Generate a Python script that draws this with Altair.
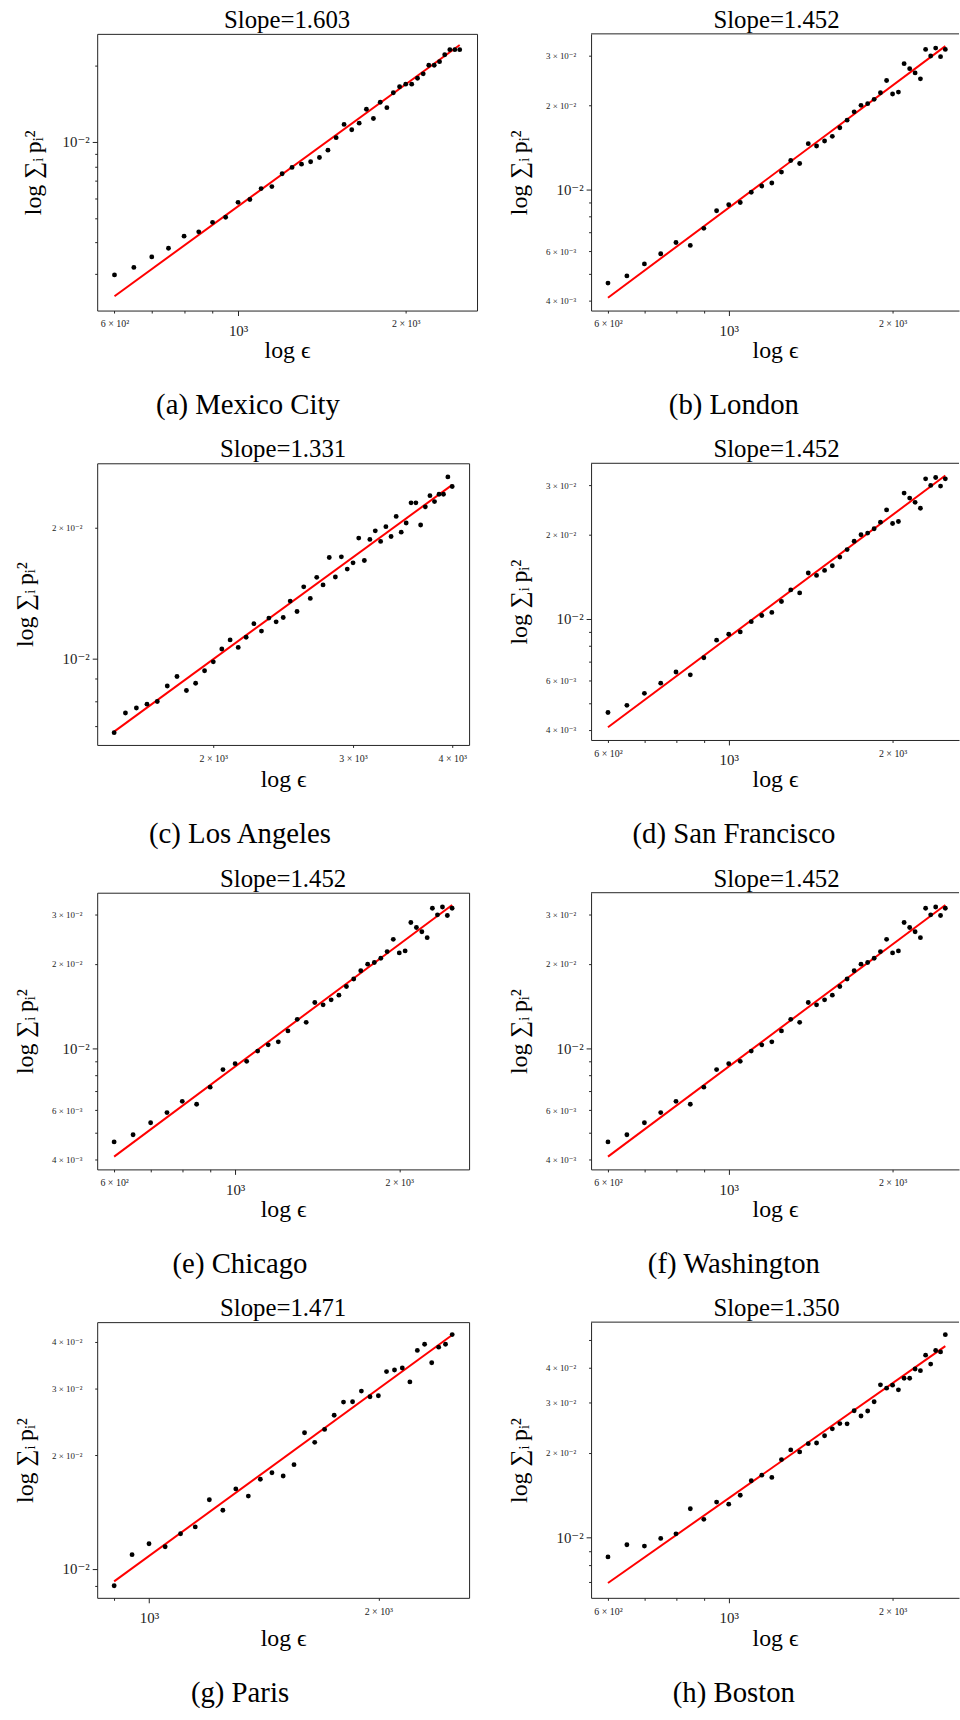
import altair as alt
import numpy as np
import pandas as pd

SERIF = "Liberation Serif, DejaVu Serif, serif"
INK = "#222222"

# ---- box sizes epsilon (x values) ----
EPS_STD = [600, 650, 700, 750, 800, 850, 900, 950, 1000, 1050, 1100, 1150, 1200,
           1250, 1300, 1350, 1400, 1450, 1500, 1550, 1600, 1650, 1700, 1750, 1800,
           1850, 1900, 1950, 2000, 2050, 2100, 2150, 2200, 2250, 2300, 2350, 2400,
           2450, 2500]
EPS_LA = [1500, 1550, 1600, 1650, 1700, 1750, 1800, 1850, 1900, 1950, 2000, 2050,
          2100, 2150, 2200, 2250, 2300, 2350, 2400, 2450, 2500, 2550, 2600, 2650,
          2700, 2750, 2800, 2850, 2900, 2950, 3000, 3050, 3100, 3150, 3200, 3250,
          3300, 3350, 3400, 3450, 3500, 3550, 3600, 3650, 3700, 3750, 3800, 3850,
          3900, 3950, 4000]
EPS_PARIS = [900, 950, 1000, 1050, 1100, 1150, 1200, 1250, 1300, 1350, 1400, 1450,
             1500, 1550, 1600, 1650, 1700, 1750, 1800, 1850, 1900, 1950, 2000, 2050,
             2100, 2150, 2200, 2250, 2300, 2350, 2400, 2450, 2500]

# ---- sum_i p_i^2 per city ----
SUM_MEXICO = [2.98e-3, 3.19e-3, 3.51e-3, 3.80e-3, 4.24e-3, 4.41e-3, 4.81e-3, 5.04e-3,
              5.77e-3, 5.92e-3, 6.54e-3, 6.66e-3, 7.49e-3, 7.93e-3, 8.17e-3, 8.35e-3,
              8.68e-3, 9.28e-3, 1.040e-2, 1.173e-2, 1.118e-2, 1.187e-2, 1.347e-2,
              1.238e-2, 1.435e-2, 1.367e-2, 1.566e-2, 1.653e-2, 1.693e-2, 1.693e-2,
              1.787e-2, 1.859e-2, 2.010e-2, 2.010e-2, 2.077e-2, 2.213e-2, 2.317e-2,
              2.317e-2, 2.317e-2]
SUM_LONDON = [4.62e-3, 4.90e-3, 5.41e-3, 5.88e-3, 6.45e-3, 6.30e-3, 7.25e-3, 8.38e-3,
              8.80e-3, 8.97e-3, 9.76e-3, 1.027e-2, 1.053e-2, 1.152e-2, 1.267e-2,
              1.236e-2, 1.456e-2, 1.428e-2, 1.488e-2, 1.546e-2, 1.660e-2, 1.766e-2,
              1.891e-2, 1.996e-2, 2.023e-2, 2.096e-2, 2.214e-2, 2.448e-2, 2.190e-2,
              2.226e-2, 2.812e-2, 2.699e-2, 2.606e-2, 2.482e-2, 3.162e-2, 2.995e-2,
              3.196e-2, 2.979e-2, 3.162e-2]
SUM_LA = [6.76e-3, 7.50e-3, 7.70e-3, 7.86e-3, 7.97e-3, 8.65e-3, 9.10e-3, 8.45e-3,
          8.78e-3, 9.38e-3, 9.83e-3, 1.052e-2, 1.104e-2, 1.061e-2, 1.120e-2, 1.203e-2,
          1.157e-2, 1.239e-2, 1.215e-2, 1.243e-2, 1.356e-2, 1.283e-2, 1.462e-2,
          1.375e-2, 1.537e-2, 1.477e-2, 1.707e-2, 1.540e-2, 1.713e-2, 1.606e-2,
          1.660e-2, 1.892e-2, 1.680e-2, 1.879e-2, 1.966e-2, 1.859e-2, 2.010e-2,
          1.908e-2, 2.122e-2, 1.952e-2, 2.049e-2, 2.280e-2, 2.280e-2, 2.028e-2,
          2.232e-2, 2.368e-2, 2.295e-2, 2.385e-2, 2.385e-2, 2.615e-2, 2.486e-2]
SUM_SF = SUM_LONDON
SUM_CHICAGO = SUM_LONDON
SUM_WASHINGTON = SUM_LONDON
SUM_PARIS = [9.02e-3, 1.090e-2, 1.165e-2, 1.144e-2, 1.238e-2, 1.291e-2, 1.524e-2,
             1.429e-2, 1.628e-2, 1.558e-2, 1.727e-2, 1.797e-2, 1.761e-2, 1.887e-2,
             2.293e-2, 2.163e-2, 2.340e-2, 2.551e-2, 2.765e-2, 2.771e-2, 2.956e-2,
             2.856e-2, 2.873e-2, 3.329e-2, 3.363e-2, 3.403e-2, 3.127e-2, 3.788e-2,
             3.935e-2, 3.515e-2, 3.865e-2, 3.935e-2, 4.172e-2]
SUM_BOSTON = [8.56e-3, 9.45e-3, 9.35e-3, 9.95e-3, 1.033e-2, 1.267e-2, 1.162e-2,
              1.337e-2, 1.315e-2, 1.414e-2, 1.591e-2, 1.665e-2, 1.634e-2, 1.890e-2,
              2.044e-2, 2.011e-2, 2.151e-2, 2.163e-2, 2.294e-2, 2.427e-2, 2.533e-2,
              2.527e-2, 2.812e-2, 2.694e-2, 2.805e-2, 3.025e-2, 3.470e-2, 3.378e-2,
              3.461e-2, 3.333e-2, 3.661e-2, 3.661e-2, 3.948e-2, 3.895e-2, 4.419e-2,
              4.109e-2, 4.588e-2, 4.538e-2, 5.220e-2]

SLOPES = {"a": 1.603, "b": 1.452, "c": 1.331, "d": 1.452,
          "e": 1.452, "f": 1.452, "g": 1.471, "h": 1.350}
CITIES = {"a": "Mexico City", "b": "London", "c": "Los Angeles", "d": "San Francisco",
          "e": "Chicago", "f": "Washington", "g": "Paris", "h": "Boston"}

# ---- tick values and their labels ----
X_TICKS_STD = {600: "6 × 10²", 700: "", 800: "", 900: "", 1000: "10³", 2000: "2 × 10³"}
X_TICKS_LA = {2000: "2 × 10³", 3000: "3 × 10³", 4000: "4 × 10³"}
X_TICKS_PARIS = {900: "", 1000: "10³", 2000: "2 × 10³"}
Y_TICKS_MEXICO = {0.003: "", 0.004: "", 0.005: "", 0.006: "", 0.007: "", 0.008: "",
                  0.009: "", 0.01: "10⁻²", 0.02: ""}
Y_TICKS_LONDON = {0.004: "4 × 10⁻³", 0.005: "", 0.006: "6 × 10⁻³", 0.007: "",
                  0.008: "", 0.009: "", 0.01: "10⁻²", 0.02: "2 × 10⁻²", 0.03: "3 × 10⁻²"}
Y_TICKS_LA = {0.007: "", 0.008: "", 0.009: "", 0.01: "10⁻²", 0.02: "2 × 10⁻²"}
Y_TICKS_PARIS = {0.009: "", 0.01: "10⁻²", 0.02: "2 × 10⁻²", 0.03: "3 × 10⁻²",
                 0.04: "4 × 10⁻²"}
Y_TICKS_BOSTON = {0.007: "", 0.008: "", 0.009: "", 0.01: "10⁻²", 0.02: "2 × 10⁻²",
                  0.03: "3 × 10⁻²", 0.04: "4 × 10⁻²", 0.05: ""}

# axis ranges (log scales)
XDOM_LEFT = [558.6, 2685.6]
XDOM_RIGHT = [558.6, 2649.0]
XDOM_LA = [1428.0, 4201.0]
XDOM_PARIS = [855.0, 2631.0]
YDOM_MEXICO = [0.002154, 0.02676]
YDOM_LONDON = [0.003684, 0.03594]
YDOM_LA = [0.006335, 0.0281]
YDOM_PARIS = [0.008377, 0.04502]
YDOM_BOSTON = [0.006136, 0.05781]

MAJOR = "abs(log(datum.value) / LN10 - round(log(datum.value) / LN10)) < 0.000001"

# the page body keeps its default 8px margin
PAGE_MARGIN = 8


def cond(major, minor):
    return {"condition": {"test": MAJOR, "value": major}, "value": minor}


def label_expr(ticks):
    parts = [f"abs(datum.value - {v!r}) < {abs(v) * 1e-6!r} ? '{t}'"
             for v, t in ticks.items()]
    return " : ".join(parts) + " : ''"


def city_panel(key, eps, s2, xdom, ydom, xticks, yticks, w, h, ytx,
               right=False, canvas=False):
    slope = SLOPES[key]
    df = pd.DataFrame({"eps": eps, "s2": s2})
    lx, ly = np.log10(df["eps"]), np.log10(df["s2"])
    icpt = ly.mean() - slope * lx.mean()
    ends = pd.DataFrame({"eps": [eps[0], eps[-1]]})
    ends["s2"] = 10 ** (icpt + slope * np.log10(ends["eps"]))

    common = dict(grid=False, domain=right, domainColor=INK, domainWidth=1,
                  tickColor=INK, tickWidth=1, tickSize=cond(5, 2.5),
                  labelFont=SERIF, labelColor=INK,
                  labelOverlap=False, labelFlush=False,
                  titleFont=SERIF, titleFontSize=24, titleFontWeight="normal",
                  titleColor="black", titleBaseline="middle")
    x_axis = alt.Axis(values=list(xticks), labelExpr=label_expr(xticks),
                      title="log ϵ", titleY=319 - h, labelPadding=cond(8, 6),
                      labelFontSize=cond(15, 10), **common)
    y_axis = alt.Axis(values=list(yticks), labelExpr=label_expr(yticks),
                      title="log ∑ᵢ\u2009pᵢ²", titleX=ytx, labelPadding=cond(3, 13),
                      labelFontSize=cond(15, 9), **common)
    x = alt.X("eps:Q", scale=alt.Scale(type="log", domain=xdom, nice=False), axis=x_axis)
    y = alt.Y("s2:Q", scale=alt.Scale(type="log", domain=ydom, nice=False), axis=y_axis)

    fit = alt.Chart(ends).mark_line(color="#ff0000", strokeWidth=2).encode(x=x, y=y)
    dots = alt.Chart(df).mark_circle(color="black", size=24, opacity=1).encode(x=x, y=y)

    title_x = 187 if right else w / 2
    cap_x = 144 if (right or key != "a") else 152
    head = alt.Chart(pd.DataFrame({"t": [f"Slope={slope:.3f}"]})).mark_text(
        font=SERIF, fontSize=25, baseline="alphabetic", align="center", color="black"
    ).encode(text="t:N", x=alt.value(title_x), y=alt.value(-6))
    cap = alt.Chart(pd.DataFrame({"t": [f"({key}) {CITIES[key]}"]})).mark_text(
        font=SERIF, fontSize=29, baseline="middle", align="center", color="black"
    ).encode(text="t:N", x=alt.value(cap_x), y=alt.value(374))

    layers = [fit, dots, head, cap]
    if right:
        # top edge of the frame (the right edge runs past the page)
        layers.append(alt.Chart(pd.DataFrame({"k": [0]})).mark_rule(
            color=INK, strokeWidth=1
        ).encode(x=alt.value(0), x2=alt.value(w), y=alt.value(0)))
        view = alt.ViewBackground(stroke=None)
    else:
        view = alt.ViewBackground(stroke=INK, strokeWidth=1)
    if canvas:
        # invisible sheet that fixes where the figure starts on the page
        layers.append(alt.Chart(pd.DataFrame({"k": [0]})).mark_rect(opacity=0).encode(
            x=alt.value(-90 + PAGE_MARGIN), x2=alt.value(870 - PAGE_MARGIN),
            y=alt.value(-31 + PAGE_MARGIN), y2=alt.value(1689 - PAGE_MARGIN)))
    return alt.layer(*layers).properties(width=w, height=h, view=view)


def gap(w, h):
    return alt.Chart(pd.DataFrame({"k": [0]})).mark_point(opacity=0, size=0).properties(
        width=w, height=h)


pa = city_panel("a", EPS_STD, SUM_MEXICO, XDOM_LEFT, YDOM_MEXICO, X_TICKS_STD,
                Y_TICKS_MEXICO, 383, 279, -64, canvas=True)
pb = city_panel("b", EPS_STD, SUM_LONDON, XDOM_RIGHT, YDOM_LONDON, X_TICKS_STD,
                Y_TICKS_LONDON, 371, 279, -72, right=True)
pc = city_panel("c", EPS_LA, SUM_LA, XDOM_LA, YDOM_LA, X_TICKS_LA,
                Y_TICKS_LA, 375, 284, -72)
pd_ = city_panel("d", EPS_STD, SUM_SF, XDOM_RIGHT, YDOM_LONDON, X_TICKS_STD,
                 Y_TICKS_LONDON, 371, 279, -72, right=True)
pe = city_panel("e", EPS_STD, SUM_CHICAGO, XDOM_LEFT, YDOM_LONDON, X_TICKS_STD,
                Y_TICKS_LONDON, 375, 279, -72)
pf = city_panel("f", EPS_STD, SUM_WASHINGTON, XDOM_RIGHT, YDOM_LONDON, X_TICKS_STD,
                Y_TICKS_LONDON, 371, 279, -72, right=True)
pg = city_panel("g", EPS_PARIS, SUM_PARIS, XDOM_PARIS, YDOM_PARIS, X_TICKS_PARIS,
                Y_TICKS_PARIS, 375, 278, -72)
ph = city_panel("h", EPS_STD, SUM_BOSTON, XDOM_RIGHT, YDOM_BOSTON, X_TICKS_STD,
                Y_TICKS_BOSTON, 371, 278, -72, right=True)

cells = [
    gap(90, 433), pa, gap(115, 1), pb,
    gap(98, 433), pc, gap(115, 1), pd_,
    gap(98, 433), pe, gap(115, 1), pf,
    gap(98, 278), pg, gap(115, 1), ph,
]

chart = alt.concat(
    *cells, columns=4, spacing=0, bounds="flush",
    align={"row": "each", "column": "none"},
).properties(padding=0, background="white").configure_view(stroke=None)

chart.save("out.html", embed_options={"renderer": "svg", "actions": False})
